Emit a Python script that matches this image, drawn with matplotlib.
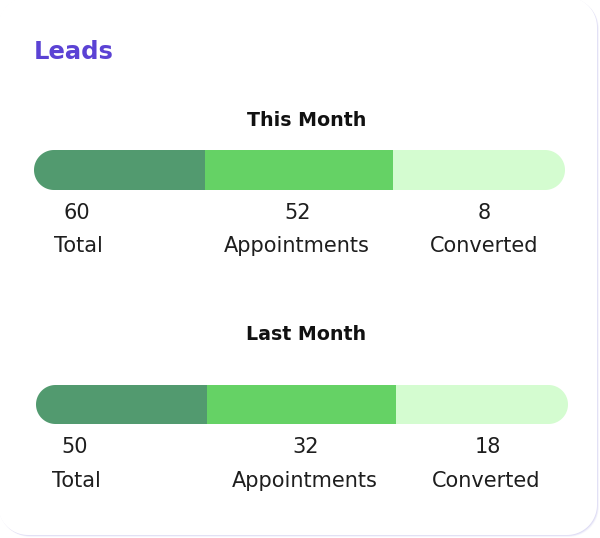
import numpy as np
import matplotlib
matplotlib.use("Agg")
import matplotlib.pyplot as plt
from matplotlib.patches import Polygon

# ─── data ────────────────────────────────────────────────────────────────
TITLE = "Leads"
PERIODS = ["This Month", "Last Month"]
CATEGORIES = ["Total", "Appointments", "Converted"]
COUNTS = [[60, 52, 8], [50, 32, 18]]
# share of the bar length taken by each segment (as drawn in the widget)
SEG_SHARES = [[0.322, 0.354, 0.324], [0.321, 0.355, 0.324]]
SEG_COLORS = ["#529a6f", "#65d265", "#d4fcd0"]

plt.rcParams["font.family"] = ["DejaVu Sans"]


def rounded_rect(x, y, w, h, r, **kw):
    """Rectangle with true circular corners (y axis points down)."""
    t = np.linspace(0, np.pi / 2, 24)
    pts = []
    # corners: top-left, top-right, bottom-right, bottom-left
    for cx, cy, a0 in [(x + r, y + r, np.pi), (x + w - r, y + r, 1.5 * np.pi),
                       (x + w - r, y + h - r, 0), (x + r, y + h - r, 0.5 * np.pi)]:
        ang = a0 + t
        pts += list(zip(cx + r * np.cos(ang), cy + r * np.sin(ang)))
    return Polygon(pts, closed=True, **kw)


fig = plt.figure(figsize=(6, 5.38), dpi=100)
ax = fig.add_axes([0, 0, 1, 1])
ax.set_xlim(0, 600)
ax.set_ylim(538, 0)
ax.axis("off")

# ─── card with a soft lavender shadow (falls to the bottom-right) ───────
for off, alpha in [(3, 0.12), (2, 0.22), (1, 0.35)]:
    ax.add_patch(rounded_rect(-2 + off * 0.6, -3 + off * 0.6, 599, 538, 30,
                              fc="#c4c0ee", ec="none", alpha=alpha))
ax.add_patch(rounded_rect(-2, -3, 599, 538, 30, fc="white", ec="none"))

ax.text(34, 59, TITLE, fontsize=17.5, fontweight="bold", color="#5b42d4",
        ha="left", va="baseline")

# ─── layout of each block ──────────────────────────────────────────────
blocks = [
    dict(left=34, right=565, y=170, h=40, title_x=307, title_y=126,
         num_y=219, name_y=252, num_x=[77, 298, 484], name_x=[78, 297, 484]),
    dict(left=36, right=568, y=404.5, h=39, title_x=306, title_y=340,
         num_y=453, name_y=487, num_x=[75, 306, 488], name_x=[76, 305, 486]),
]

for period, counts, shares, b in zip(PERIODS, COUNTS, SEG_SHARES, blocks):
    total_w = b["right"] - b["left"]
    widths = [s * total_w for s in shares]
    lefts = [b["left"] + sum(widths[:i]) for i in range(len(widths))]
    bars = ax.barh(b["y"], widths, left=lefts, height=b["h"],
                   color=SEG_COLORS, edgecolor="none")
    clip = rounded_rect(b["left"], b["y"] - b["h"] / 2, total_w, b["h"],
                        b["h"] / 2, fc="none", ec="none")
    ax.add_patch(clip)
    for bar in bars:
        bar.set_clip_path(clip)

    ax.text(b["title_x"], b["title_y"], period, fontsize=13.7,
            fontweight="bold", color="#111111", ha="center", va="baseline")
    for cat, n, nx, lx in zip(CATEGORIES, counts, b["num_x"], b["name_x"]):
        ax.text(nx, b["num_y"], str(n), fontsize=15, color="#1e1e1e",
                ha="center", va="baseline")
        ax.text(lx, b["name_y"], cat, fontsize=15, color="#1e1e1e",
                ha="center", va="baseline")

fig.savefig("out.png", dpi=100, facecolor="white")
